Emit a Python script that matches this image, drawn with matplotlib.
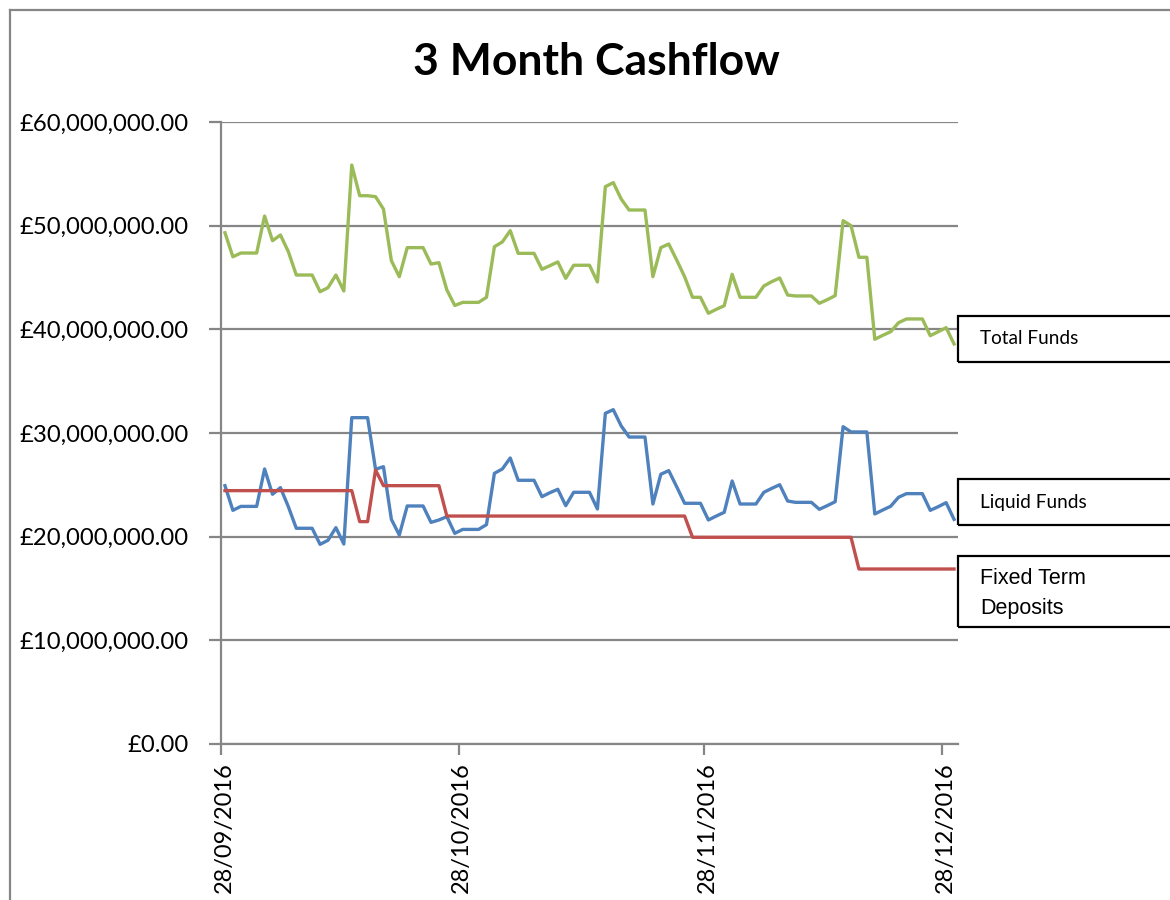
import pandas as pd
import matplotlib
matplotlib.use('Agg')
import matplotlib.pyplot as plt
import matplotlib.dates as mdates
import matplotlib.transforms as mtransforms
from matplotlib.patches import Rectangle
from matplotlib.ticker import FuncFormatter

# daily values, in millions of pounds, 28/09/2016 .. 29/12/2016
start_date = '2016-09-28'
total_funds = [49.32, 47.0, 47.36, 47.36, 47.36, 50.93, 48.55, 49.1, 47.49, 45.24,
               45.24, 45.24, 43.63, 44.02, 45.24, 43.70, 55.85, 52.89, 52.89, 52.8,
               51.6, 46.62, 45.08, 47.88, 47.88, 47.88, 46.3, 46.43, 43.8, 42.3,
               42.6, 42.6, 42.6, 43.09, 47.97, 48.43, 49.52, 47.33, 47.33, 47.33,
               45.79, 46.14, 46.5, 44.92, 46.18, 46.18, 46.18, 44.57, 53.76, 54.15,
               52.57, 51.51, 51.51, 51.51, 45.08, 47.88, 48.23, 46.69, 45.08, 43.09,
               43.09, 41.55, 41.93, 42.28, 45.31, 43.09, 43.09, 43.09, 44.18, 44.6,
               44.95, 43.31, 43.22, 43.22, 43.22, 42.51, 42.86, 43.25, 50.48, 50.0,
               46.95, 46.95, 39.04, 39.42, 39.77, 40.64, 41.0, 41.0, 41.0, 39.39,
               39.77, 40.16, 38.59]
liquid_funds = [24.92, 22.54, 22.92, 22.92, 22.92, 26.53, 24.09, 24.73, 22.89, 20.81,
                20.81, 20.81, 19.26, 19.65, 20.87, 19.29, 31.48, 31.48, 31.48, 26.5,
                26.75, 21.67, 20.16, 22.96, 22.96, 22.96, 21.38, 21.61, 21.93, 20.32,
                20.7, 20.7, 20.7, 21.16, 26.11, 26.53, 27.59, 25.44, 25.44, 25.44,
                23.86, 24.24, 24.57, 22.99, 24.28, 24.28, 24.28, 22.67, 31.9, 32.25,
                30.68, 29.61, 29.61, 29.61, 23.15, 26.02, 26.37, 24.82, 23.22, 23.22,
                23.22, 21.61, 21.99, 22.35, 25.37, 23.15, 23.15, 23.15, 24.28, 24.66,
                25.01, 23.44, 23.31, 23.31, 23.31, 22.64, 22.99, 23.37, 30.61, 30.1,
                30.1, 30.1, 22.19, 22.57, 22.93, 23.8, 24.15, 24.15, 24.15, 22.54,
                22.89, 23.28, 21.67]
fixed_term = [24.44, 24.44, 24.44, 24.44, 24.44, 24.44, 24.44, 24.44, 24.44, 24.44,
              24.44, 24.44, 24.44, 24.44, 24.44, 24.44, 24.44, 21.45, 21.45, 26.43,
              24.92, 24.92, 24.92, 24.92, 24.92, 24.92, 24.92, 24.92, 21.99, 21.99,
              21.99, 21.99, 21.99, 21.99, 21.99, 21.99, 21.99, 21.99, 21.99, 21.99,
              21.99, 21.99, 21.99, 21.99, 21.99, 21.99, 21.99, 21.99, 21.99, 21.99,
              21.99, 21.99, 21.99, 21.99, 21.99, 21.99, 21.99, 21.99, 21.99, 19.94,
              19.94, 19.94, 19.94, 19.94, 19.94, 19.94, 19.94, 19.94, 19.94, 19.94,
              19.94, 19.94, 19.94, 19.94, 19.94, 19.94, 19.94, 19.94, 19.94, 19.94,
              16.88, 16.88, 16.88, 16.88, 16.88, 16.88, 16.88, 16.88, 16.88, 16.88,
              16.88, 16.88, 16.88]
tick_dates = ['2016-09-28', '2016-10-28', '2016-11-28', '2016-12-28']
series_names = ['Total Funds', 'Liquid Funds', 'Fixed Term\nDeposits']

dates = pd.date_range(start_date, periods=len(total_funds), freq='D')
# Excel puts each point in the middle of its day
x = dates + pd.Timedelta(hours=12)

grid_col = '#868686'
plt.rcParams['font.family'] = ['Lato', 'DejaVu Sans']

fig = plt.figure(figsize=(11.7, 9), dpi=100)
ax = fig.add_axes([221 / 1170, 1 - 744 / 900, (958 - 221) / 1170, (744 - 122) / 900])

ax.plot(x, [v * 1e6 for v in total_funds], color='#9BBB59', lw=2.4)
ax.plot(x, [v * 1e6 for v in liquid_funds], color='#4F81BD', lw=2.4)
ax.plot(x, [v * 1e6 for v in fixed_term], color='#C0504D', lw=2.4)

ax.set_ylim(0, 60e6)
ax.set_yticks(range(0, 60000001, 10000000))
ax.yaxis.set_major_formatter(FuncFormatter(lambda v, p: '£{:,.2f}'.format(v)))
ax.set_xlim(dates[0], dates[-1] + pd.Timedelta(days=1))
ax.set_xticks(pd.to_datetime(tick_dates))
ax.xaxis.set_major_formatter(mdates.DateFormatter('%d/%m/%Y'))
ax.grid(axis='y', color=grid_col, lw=1.6)
ax.set_axisbelow(True)
for s in ['top', 'right']:
    ax.spines[s].set_visible(False)
for s in ['left', 'bottom']:
    ax.spines[s].set_color(grid_col)
    ax.spines[s].set_linewidth(1.6)
ax.tick_params(axis='y', length=9, width=1.6, color=grid_col, labelsize=17.2, pad=14)
ax.tick_params(axis='x', length=8, width=1.6, color=grid_col, labelsize=17,
               labelrotation=90, pad=5)
shift = mtransforms.ScaledTranslation(3 / 100, 0, fig.dpi_scale_trans)
for lbl in ax.get_xticklabels():
    lbl.set_transform(lbl.get_transform() + shift)

fig.text(596 / 1170, 1 - 62 / 900, '3 Month Cashflow', ha='center', va='center',
         fontsize=32, fontweight='bold')

# outer chart frame
fig.add_artist(plt.Line2D([10 / 1170, 10 / 1170], [0, 1 - 10 / 900], color=grid_col, lw=1.6))
fig.add_artist(plt.Line2D([10 / 1170, 1], [1 - 10 / 900, 1 - 10 / 900], color=grid_col, lw=1.6))

# label boxes on the right
boxes = [(316, 362), (479, 525), (556, 627)]
for (top, bot), name in zip(boxes, series_names):
    fig.add_artist(Rectangle((958 / 1170, 1 - bot / 900), 220 / 1170, (bot - top) / 900,
                             transform=fig.transFigure, fill=False, ec='black', lw=1.6,
                             clip_on=False))
    if '\n' in name:
        fig.text(980 / 1170, 1 - ((top + bot) / 2 + 2) / 900, name, ha='left', va='center',
                 fontsize=15.5, family=['Liberation Sans'], linespacing=1.6)
    else:
        fig.text(980 / 1170, 1 - (top + bot) / 2 / 900, name, ha='left', va='center',
                 fontsize=13.7)

fig.savefig('out.png', dpi=100)
